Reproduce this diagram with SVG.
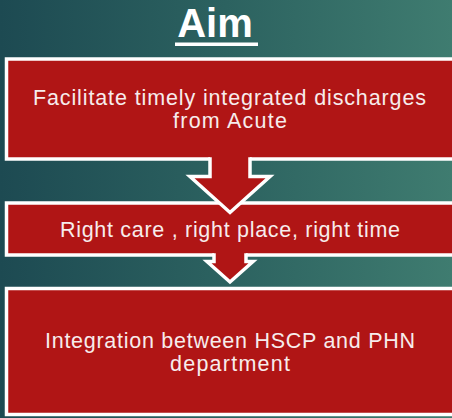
<svg xmlns="http://www.w3.org/2000/svg" width="452" height="418" viewBox="0 0 452 418">
  <defs>
    <linearGradient id="bg" x1="0" y1="0" x2="1" y2="0">
      <stop offset="0" stop-color="#1d4a52"/>
      <stop offset="0.5" stop-color="#2c6260"/>
      <stop offset="1" stop-color="#3f7c70"/>
    </linearGradient>
  </defs>
  <style>
    .box { fill: #b01515; stroke: #ffffff; stroke-width: 3.5; }
    .arrowfill { fill: #b01515; stroke: none; }
    .arrowline { fill: none; stroke: #ffffff; stroke-width: 3.5; stroke-linejoin: miter; }
    .txt { font-family: "Liberation Sans", Arial, sans-serif; font-size: 21.5px; fill: #f7ecec; text-anchor: middle; }
    .title { font-family: "Liberation Sans", Arial, sans-serif; font-size: 40px; font-weight: bold; fill: #ffffff; text-anchor: middle; }
  </style>
  <rect x="0" y="0" width="452" height="418" fill="url(#bg)"/>

  <g id="title">
    <text class="title" x="215" y="37">Aim</text>
    <rect x="175" y="42.5" width="83" height="3.5" fill="#ffffff"/>
  </g>

  <g id="box1">
    <rect class="box" x="6.5" y="59" width="460" height="100"/>
    <text class="txt" x="229.5" y="105" textLength="393" lengthAdjust="spacing">Facilitate timely integrated discharges</text>
    <text class="txt" x="230" y="128" textLength="114" lengthAdjust="spacing">from Acute</text>
  </g>

  <g id="box2">
    <rect class="box" x="6.5" y="203" width="460" height="52"/>
    <text class="txt" x="230" y="237" textLength="340" lengthAdjust="spacing">Right care , right place, right time</text>
  </g>

  <g id="box3">
    <rect class="box" x="6.5" y="288.5" width="460" height="126"/>
    <text class="txt" x="230" y="348" textLength="370" lengthAdjust="spacing">Integration between HSCP and PHN</text>
    <text class="txt" x="230" y="371" textLength="120" lengthAdjust="spacing">department</text>
  </g>

  <g id="connectors">
    <g id="arrow1">
      <polygon class="arrowfill" points="210,156 250,156 250,176.5 270,176.5 230,212.5 190,176.5 210,176.5"/>
      <polyline class="arrowline" points="210,157.3 210,176.5 190,176.5 230,212.5 270,176.5 250,176.5 250,157.3"/>
    </g>
    <g id="arrow2">
      <polygon class="arrowfill" points="214,252 246,252 246,261.5 253,261.5 230,282 207,261.5 214,261.5"/>
      <polyline class="arrowline" points="214,253.3 214,261.5 207,261.5 230,282 253,261.5 246,261.5 246,253.3"/>
    </g>
  </g>
</svg>
